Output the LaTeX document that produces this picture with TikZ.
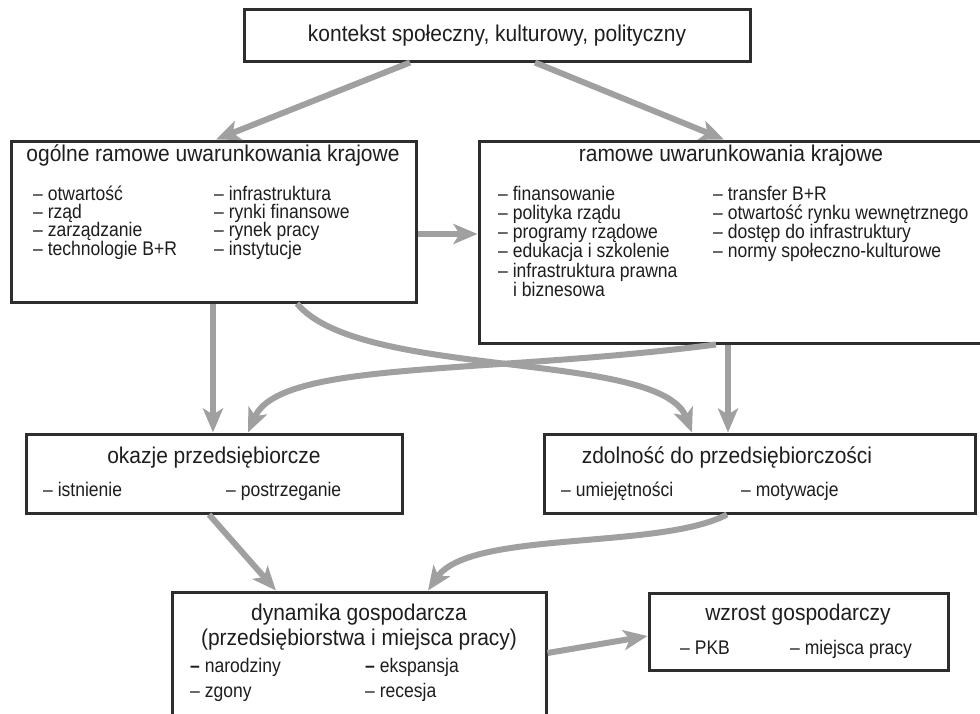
\documentclass[tikz,border=0pt]{standalone}
\usepackage{fontspec}
\setmainfont{Liberation Sans}
\newfontfamily\headfont[FakeStretch=0.92]{Liberation Sans}
\newfontfamily\itemfont[FakeStretch=0.89]{Liberation Sans}
\usetikzlibrary{arrows.meta,calc}

\definecolor{flowgray}{RGB}{160,160,160}
\definecolor{frame}{RGB}{45,45,45}
\definecolor{ink}{RGB}{30,30,30}

\begin{document}
\begin{tikzpicture}[x=1pt,y=-1pt,
  box/.style={draw=frame, line width=3pt, fill=white, anchor=north west,
              inner sep=0pt, outer sep=0pt},
  head/.style={font=\headfont\fontsize{22.8}{26}\selectfont, text=ink, inner sep=0pt, anchor=base},
  item/.style={font=\itemfont\fontsize{19.7}{23}\selectfont, text=ink, inner sep=0pt, anchor=base west},
  flow/.style={draw=flowgray, line width=6pt,
               -{Stealth[length=24pt,width=20pt,inset=6pt]}},
]
\useasboundingbox (0,0) rectangle (980,713);
\clip (0,0) rectangle (980,713);

% frames
\node[box, minimum width=506pt, minimum height=52pt]  (ctx)  at (244,9)   {};
\node[box, minimum width=405pt, minimum height=161pt] (gen)  at (11,141)  {};
\node[box, minimum width=506pt, minimum height=202pt] (nat)  at (479,141) {};
\node[box, minimum width=376pt, minimum height=79pt]  (opp)  at (26,434)  {};
\node[box, minimum width=431pt, minimum height=79pt]  (cap)  at (544,434) {};
\node[box, minimum width=374pt, minimum height=140pt] (dyn)  at (172,592) {};
\node[box, minimum width=299pt, minimum height=77pt]  (grow) at (649,593) {};

% context
\node[head] (ctxT) at (497,41) {kontekst społeczny, kulturowy, polityczny};

% general framework conditions
\node[head] (genT) at (213,161) {ogólne ramowe uwarunkowania krajowe};
\node[item] (g1) at (33,200)   {– otwartość};
\node[item] (g2) at (33,218.4) {– rząd};
\node[item] (g3) at (33,236.8) {– zarządzanie};
\node[item] (g4) at (33,255.2) {– technologie B+R};
\node[item] (g5) at (214,200)   {– infrastruktura};
\node[item] (g6) at (214,218.4) {– rynki finansowe};
\node[item] (g7) at (214,236.8) {– rynek pracy};
\node[item] (g8) at (214,255.2) {– instytucje};

% national framework conditions
\node[head] (natT) at (731,161) {ramowe uwarunkowania krajowe};
\node[item] (n1) at (498,200)   {– finansowanie};
\node[item] (n2) at (498,219.3) {– polityka rządu};
\node[item] (n3) at (498,238.6) {– programy rządowe};
\node[item] (n4) at (498,257.9) {– edukacja i szkolenie};
\node[item] (n5) at (498,277.2) {– infrastruktura prawna};
\node[item] (n6) at (513,296.5) {i biznesowa};
\node[item] (n7) at (713,200)   {– transfer B+R};
\node[item] (n8) at (713,219.3) {– otwartość rynku wewnętrznego};
\node[item] (n9) at (713,238.6) {– dostęp do infrastruktury};
\node[item] (n10) at (713,257.9) {– normy społeczno-kulturowe};

% opportunities
\node[head] (oppT) at (214,463) {okazje przedsiębiorcze};
\node[item] (o1) at (43,496)  {– istnienie};
\node[item] (o2) at (226,496) {– postrzeganie};

% capacity
\node[head] (capT) at (727,463) {zdolność do przedsiębiorczości};
\node[item] (c1) at (561,496) {– umiejętności};
\node[item] (c2) at (741,496) {– motywacje};

% business dynamics
\node[head] (dynT) at (359,620) {dynamika gospodarcza};
\node[head] (dynU) at (359,645) {(przedsiębiorstwa i miejsca pracy)};
\node[item] (d1) at (190,672) {{\bfseries –} narodziny};
\node[item] (d2) at (190,697) {– zgony};
\node[item] (d3) at (365,672) {{\bfseries –} ekspansja};
\node[item] (d4) at (365,697) {– recesja};

% growth
\node[head] (growT) at (798,620) {wzrost gospodarczy};
\node[item] (w1) at (680,654) {– PKB};
\node[item] (w2) at (790,654) {– miejsca pracy};

% connectors
\draw[flow] ($(ctx.south west)+(166,1.5)$) -- ($(gen.north west)+(205,-1.5)$);
\draw[flow] ($(ctx.south west)+(291,1.5)$) -- ($(nat.north west)+(245,-1.5)$);
\draw[flow] ($(gen.north east)+(1.5,93)$) -- ($(nat.north west)+(-1.5,93)$);
\draw[flow] ($(gen.south west)+(202,1.5)$) -- ($(opp.north west)+(187,-1.5)$);
\draw[flow] ($(gen.south west)+(286,1.5)$)
  .. controls (360,380) and (660,350) .. ($(cap.north west)+(148,-1.5)$);
\draw[flow] ($(nat.south west)+(237,1.5)$)
  .. controls (480,375) and (280,360) .. ($(opp.north west)+(222,-1.5)$);
\draw[flow] ($(nat.south west)+(249,1.5)$) -- ($(cap.north west)+(184,-1.5)$);
\draw[flow] ($(opp.south west)+(183,1.5)$) -- ($(dyn.north west)+(104,-1.5)$);
\draw[flow] ($(cap.south west)+(183,1.5)$)
  .. controls (660,550) and (470,530) .. ($(dyn.north west)+(256,-1.5)$);
\draw[flow] ($(dyn.north east)+(1.5,61)$) -- ($(grow.north west)+(-1.5,43)$);
\end{tikzpicture}
\end{document}
